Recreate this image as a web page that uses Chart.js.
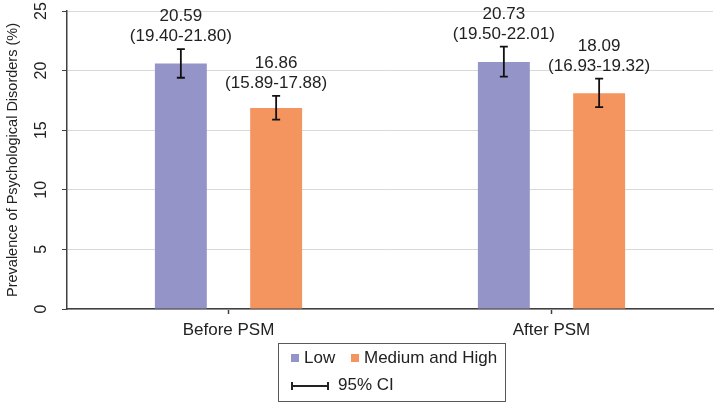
<!DOCTYPE html>
<html>
<head>
<meta charset="utf-8">
<script src="https://cdn.jsdelivr.net/npm/chart.js@4"></script>
<style>
  body { margin: 0; background: #fff; }
  #wrap { position: relative; width: 720px; height: 406px; }
  #legend { position: absolute; left: 278px; top: 343px; width: 228px; height: 59px; box-sizing: border-box;
    border: 1px solid #595959; font: 17px 'Liberation Sans', Arial, sans-serif; color: #222; }
  #legend span { position: absolute; line-height: 20px; white-space: nowrap; }
  #legend .sw { width: 8px; height: 8px; }
  #legend .ci { height: 2px; background: #222; }
  #legend .ci:before, #legend .ci:after { content: ''; position: absolute; top: -3px; width: 2px; height: 8px; background: #222; }
  #legend .ci:before { left: 0; }
  #legend .ci:after { right: 0; }
</style>
</head>
<body>
<div id="wrap">
  <canvas id="chart" width="720" height="406"></canvas>
  <div id="legend">
    <span class="sw" style="left:12px;top:10px;background:#9594c8"></span>
    <span style="left:25px;top:4px">Low</span>
    <span class="sw" style="left:72px;top:10px;background:#f4945f"></span>
    <span style="left:85px;top:4px">Medium and High</span>
    <span class="ci" style="left:12px;top:41px;width:38px"></span>
    <span style="left:59px;top:31px">95% CI</span>
  </div>
</div>
<script>
const categories = ['Before PSM', 'After PSM'];
const lowValues = [20.59, 20.73];
const lowLower = [19.40, 19.50];
const lowUpper = [21.80, 22.01];
const medHighValues = [16.86, 18.09];
const medHighLower = [15.89, 16.93];
const medHighUpper = [17.88, 19.32];
const yTicks = [0, 5, 10, 15, 20, 25];

const font = "'Liberation Sans', Arial, sans-serif";
const textColor = '#222';
const axisColor = '#404040';

// error bars + value / CI labels above each bar
const errorBars = {
  id: 'errorBars',
  afterDatasetsDraw(chart) {
    const ctx = chart.ctx;
    const y = chart.scales.y;
    chart.data.datasets.forEach((ds, i) => {
      chart.getDatasetMeta(i).data.forEach((bar, j) => {
        const x = bar.x;
        const yLo = y.getPixelForValue(ds.lower[j]);
        const yHi = y.getPixelForValue(ds.upper[j]);
        ctx.save();
        ctx.strokeStyle = '#111';
        ctx.lineWidth = 1.8;
        ctx.beginPath();
        ctx.moveTo(x, yLo); ctx.lineTo(x, yHi);
        ctx.moveTo(x - 4, yLo); ctx.lineTo(x + 4, yLo);
        ctx.moveTo(x - 4, yHi); ctx.lineTo(x + 4, yHi);
        ctx.stroke();
        ctx.fillStyle = textColor;
        ctx.font = '17px ' + font;
        ctx.textAlign = 'center';
        ctx.textBaseline = 'alphabetic';
        const ci = '(' + ds.lower[j].toFixed(2) + '-' + ds.upper[j].toFixed(2) + ')';
        ctx.fillText(ci, x, yHi - 8);
        ctx.fillText(ds.data[j].toFixed(2), x, yHi - 28);
        ctx.restore();
      });
    });
  }
};

new Chart(document.getElementById('chart'), {
  type: 'bar',
  data: {
    labels: categories,
    datasets: [{
      label: 'Low',
      data: lowValues,
      lower: lowLower,
      upper: lowUpper,
      backgroundColor: '#9594c8'
    }, {
      label: 'Medium and High',
      data: medHighValues,
      lower: medHighLower,
      upper: medHighUpper,
      backgroundColor: '#f4945f'
    }]
  },
  options: {
    responsive: false,
    animation: false,
    devicePixelRatio: 1,
    categoryPercentage: 0.59,
    barPercentage: 0.545,
    layout: { padding: { left: 0, right: 7, top: 11, bottom: 0 } },
    plugins: {
      legend: { display: false },
      tooltip: { enabled: false }
    },
    scales: {
      x: {
        grid: { drawOnChartArea: false, offset: false, tickLength: 5, tickColor: axisColor, tickWidth: 1.5 },
        border: { color: axisColor, width: 1.5 },
        ticks: { color: textColor, font: { family: font, size: 17 }, padding: 6 },
        afterFit(scale) { scale.height = 97; }
      },
      y: {
        min: 0,
        max: 25,
        afterBuildTicks(scale) { scale.ticks = yTicks.map(v => ({ value: v })); },
        grid: { color: '#d9d9d9', tickColor: axisColor, tickLength: 5, lineWidth: 1 },
        border: { color: axisColor, width: 1.5 },
        ticks: { color: textColor, font: { family: font, size: 16 }, minRotation: 90, maxRotation: 90, crossAlign: 'center', padding: 12 },
        title: { display: true, text: 'Prevalence of Psychological Disorders (%)', color: textColor, font: { family: font, size: 14.5 }, padding: { top: 4, bottom: 3 } },
        afterFit(scale) { scale.width = 67; scale.paddingTop = 0; scale.paddingBottom = 0; }
      }
    }
  },
  plugins: [errorBars]
});
</script>
</body>
</html>
